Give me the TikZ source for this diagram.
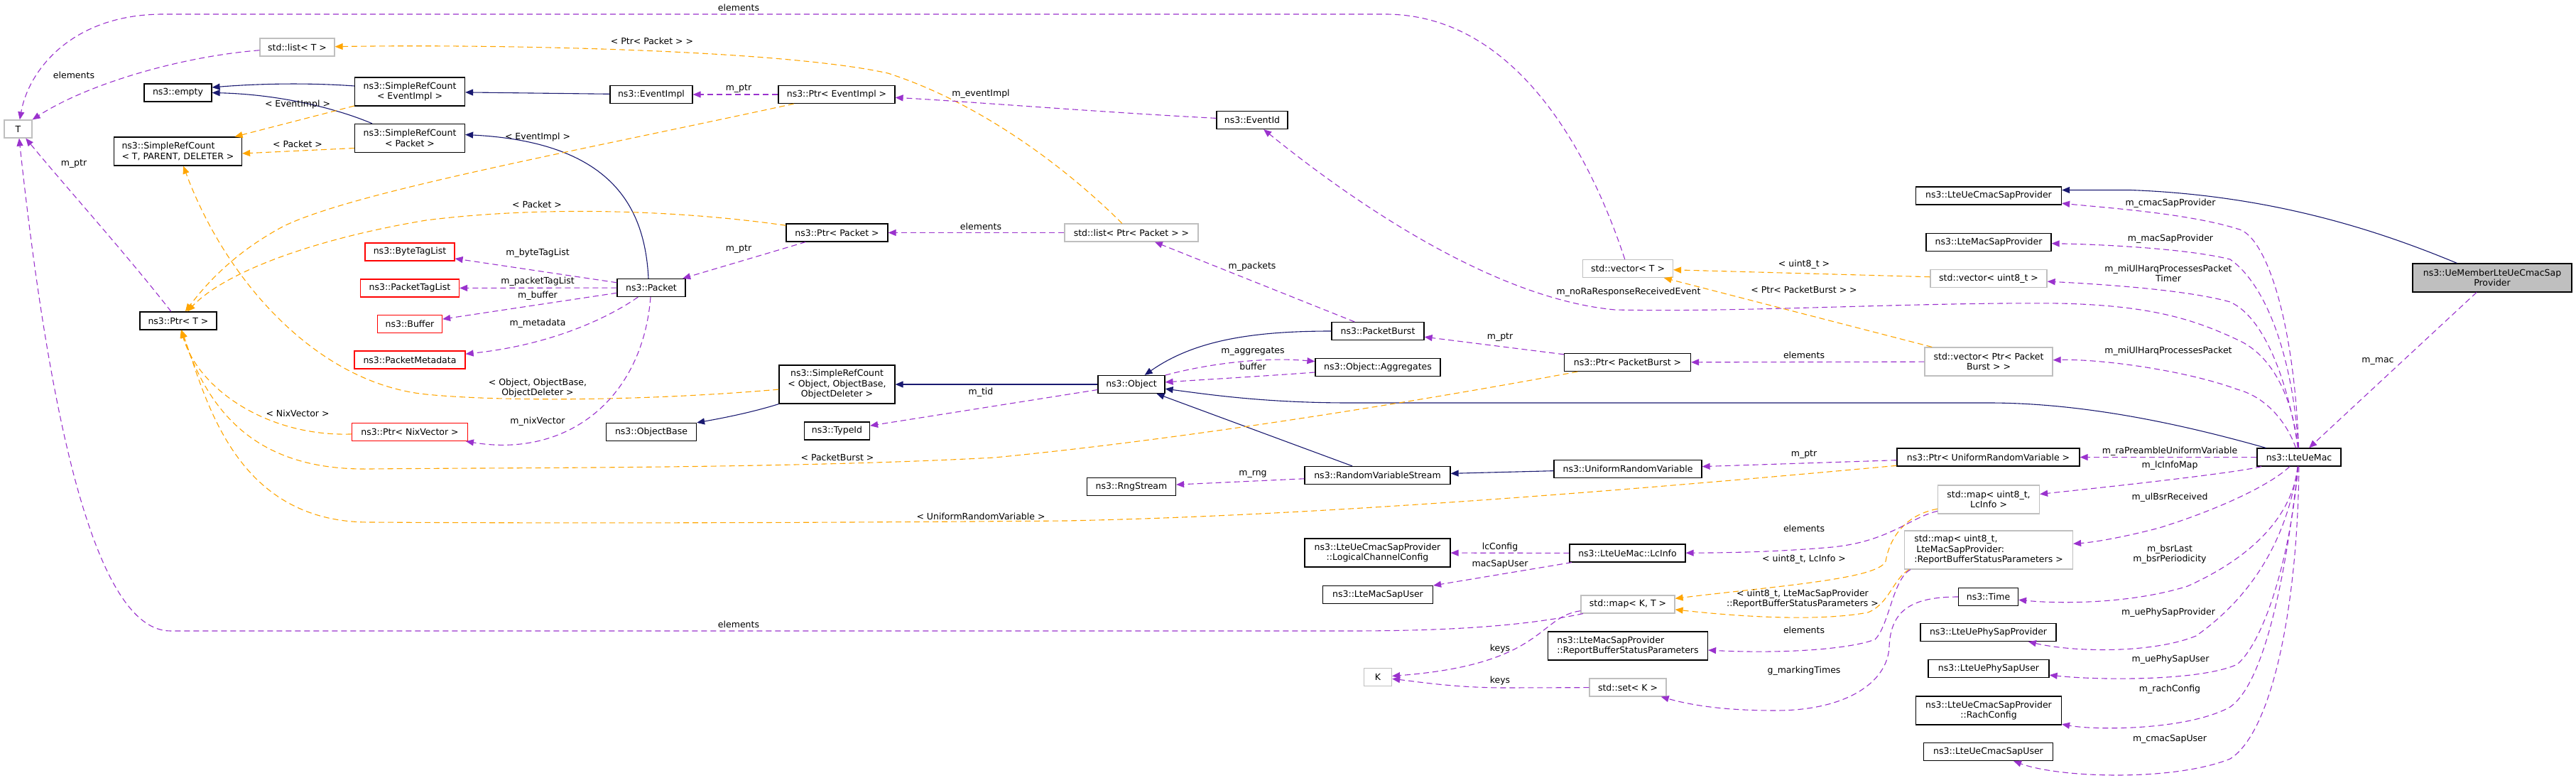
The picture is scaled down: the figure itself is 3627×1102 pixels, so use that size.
\documentclass[tikz,border=0pt]{standalone}
\usepackage{fontspec}
\setmainfont{DejaVu Sans}
\usetikzlibrary{arrows.meta}
\definecolor{mpurple}{HTML}{9A32CD}
\definecolor{morange}{HTML}{FFA500}
\definecolor{mnavy}{HTML}{191970}
\definecolor{mgray}{HTML}{BFBFBF}
\definecolor{mred}{HTML}{FF0000}
\tikzset{
 fnt/.style={font=\fontsize{12.5}{14.5}\selectfont},
 box/.style={fnt, draw=black, line width=1.2pt, fill=white, inner sep=0pt, minimum height=25pt, align=center},
 rbox/.style={box, draw=mred},
 gbox/.style={box, draw=mgray},
 lbl/.style={fnt, inner sep=0pt, align=center},
 mem/.style={draw=mpurple, line width=1.1pt, dash pattern=on 8pt off 5pt, -{Triangle[length=11pt,width=9pt]}},
 tmpl/.style={draw=morange, line width=1.1pt, dash pattern=on 8pt off 5pt, -{Triangle[length=11pt,width=9pt]}},
 inh/.style={draw=mnavy, line width=1.1pt, -{Triangle[length=11pt,width=9pt]}}
}
\begin{document}
\begin{tikzpicture}[x=1pt,y=-1pt]
\useasboundingbox (0,0) rectangle (3627,1102);
% ---------- nodes ----------
\node[gbox, minimum width=39pt] (T) at (25.5,181.5) {T};
\node[gbox, minimum width=105pt] (listT) at (418.5,66.5) {std::list< T >};
\node[box, minimum width=95pt] (empty) at (250.5,130.5) {ns3::empty};
\node[box, minimum width=180pt, minimum height=40pt, align=left] (srcT) at (250.5,213) {ns3::SimpleRefCount\\< T, PARENT, DELETER >};
\node[box, minimum width=155pt, minimum height=40pt] (srcEv) at (577,129) {ns3::SimpleRefCount\\< EventImpl >};
\node[box, minimum width=155pt, minimum height=40pt] (srcPk) at (577,194.5) {ns3::SimpleRefCount\\< Packet >};
\node[rbox, minimum width=126pt] (byteTag) at (577,354.5) {ns3::ByteTagList};
\node[rbox, minimum width=139pt] (pktTag) at (577,405.5) {ns3::PacketTagList};
\node[rbox, minimum width=91pt] (buffer) at (577,456) {ns3::Buffer};
\node[rbox, minimum width=156pt] (meta) at (577,506.5) {ns3::PacketMetadata};
\node[box, minimum width=108pt] (ptrT) at (251,451.5) {ns3::Ptr< T >};
\node[rbox, minimum width=163pt] (ptrNix) at (577,608) {ns3::Ptr< NixVector >};
\node[box, minimum width=116pt] (eventImpl) at (917,133) {ns3::EventImpl};
\node[box, minimum width=164pt] (ptrEv) at (1178,133) {ns3::Ptr< EventImpl >};
\node[box, minimum width=143pt] (ptrPk) at (1178.5,327.5) {ns3::Ptr< Packet >};
\node[box, minimum width=96pt] (packet) at (917,405) {ns3::Packet};
\node[box, minimum width=163pt, minimum height=54pt] (srcObj) at (1178.5,541) {ns3::SimpleRefCount\\< Object, ObjectBase,\\ ObjectDeleter >};
\node[box, minimum width=127pt] (objBase) at (917,608) {ns3::ObjectBase};
\node[box, minimum width=92pt] (typeId) at (1178.5,606.5) {ns3::TypeId};
\node[box, minimum width=100pt] (eventId) at (1763,169) {ns3::EventId};
\node[gbox, minimum width=188pt] (listPP) at (1593,327.5) {std::list< Ptr< Packet > >};
\node[box, minimum width=94pt] (object) at (1593,541) {ns3::Object};
\node[box, minimum width=125pt] (rng) at (1593,685) {ns3::RngStream};
\node[gbox, minimum width=127pt] (vecT) at (2292,378) {std::vector< T >};
\node[box, minimum width=130pt] (pburst) at (1940,466) {ns3::PacketBurst};
\node[box, minimum width=176pt] (aggr) at (1940,517) {ns3::Object::Aggregates};
\node[box, minimum width=178pt] (ptrPB) at (2291.5,510) {ns3::Ptr< PacketBurst >};
\node[box, minimum width=205pt] (rvs) at (1939.5,669) {ns3::RandomVariableStream};
\node[box, minimum width=208pt] (urv) at (2292,660) {ns3::UniformRandomVariable};
\node[box, minimum width=205pt, minimum height=40pt] (lcc) at (1939.5,778) {ns3::LteUeCmacSapProvider\\::LogicalChannelConfig};
\node[box, minimum width=163pt] (lcinfo) at (2291.5,778.5) {ns3::LteUeMac::LcInfo};
\node[box, minimum width=155pt] (macSapUser) at (1940,837) {ns3::LteMacSapUser};
\node[gbox, minimum width=132pt] (mapKT) at (2292,850.5) {std::map< K, T >};
\node[box, minimum width=225pt, minimum height=40pt, align=left] (rbsp) at (2292,909) {ns3::LteMacSapProvider\\::ReportBufferStatusParameters};
\node[gbox, minimum width=39pt] (K) at (1940,953) {K};
\node[gbox, minimum width=108pt] (setK) at (2292,967.5) {std::set< K >};
\node[box, minimum width=205pt] (cmacProv) at (2800,275.5) {ns3::LteUeCmacSapProvider};
\node[box, minimum width=176pt] (macProv) at (2800,341) {ns3::LteMacSapProvider};
\node[gbox, minimum width=164pt] (vecU8) at (2800,392) {std::vector< uint8\_t >};
\node[gbox, minimum width=180pt, minimum height=40pt] (vecPPB) at (2800,509) {std::vector< Ptr< Packet\\Burst > >};
\node[box, minimum width=257pt] (ptrURV) at (2799.5,643.5) {ns3::Ptr< UniformRandomVariable >};
\node[gbox, minimum width=143pt, minimum height=40pt] (mapLc) at (2800,703) {std::map< uint8\_t,\\LcInfo >};
\node[gbox, minimum width=237pt, minimum height=54pt, align=left] (mapRB) at (2800,774) {std::map< uint8\_t,\\\hspace*{3pt}LteMacSapProvider:\\:ReportBufferStatusParameters >};
\node[box, minimum width=84pt] (time) at (2799.5,840) {ns3::Time};
\node[box, minimum width=191pt] (phyProv) at (2799.5,890) {ns3::LteUePhySapProvider};
\node[box, minimum width=170pt] (phyUser) at (2800,941) {ns3::LteUePhySapUser};
\node[box, minimum width=205pt, minimum height=40pt] (rach) at (2800,1000) {ns3::LteUeCmacSapProvider\\::RachConfig};
\node[box, minimum width=182pt] (cmacUser) at (2799.5,1058) {ns3::LteUeCmacSapUser};
\node[box, minimum width=118pt] (mac) at (3237,643.5) {ns3::LteUeMac};
\node[box, fill=mgray, minimum width=224pt, minimum height=40pt] (ueMember) at (3509,391) {ns3::UeMemberLteUeCmacSap\\Provider};
% ---------- inheritance ----------
\draw[inh] ([yshift=8pt]srcEv.west) .. controls (430,116) and (360,118) .. ([yshift=7.5pt]empty.east);
\draw[inh] ([xshift=-53pt]srcPk.north) .. controls (480,155) and (400,133) .. (empty.east);
\draw[inh] (eventImpl) -- (srcEv);
\draw[inh] ([xshift=-4pt]packet.north) .. controls (908,290) and (860,200) .. ([yshift=5pt]srcPk.east);
\draw[inh] (srcObj.south west) .. controls (1060,580) and (1020,588) .. (objBase.north east);
\draw[inh] (object) -- (srcObj);
\draw[inh] (pburst) .. controls (1760,466) and (1680,480) .. (object);
\draw[inh] (rvs) -- (object);
\draw[inh] (urv) -- (rvs);
\draw[inh] (mac) .. controls (3100,605) and (2950,567) .. (2800,567) -- (1900,567) .. controls (1780,567) and (1700,555) .. (object);
\draw[inh] (ueMember) .. controls (3350,325) and (3200,275) .. (3000,267.5) -- ([yshift=8pt]cmacProv.east);
% ---------- template instances ----------
\draw[tmpl] (listPP) .. controls (1500,235) and (1380,145) .. (1250,103) .. controls (1100,70) and (700,62) .. (listT);
\draw[tmpl] (vecU8) -- (vecT);
\draw[tmpl] (vecPPB) -- (vecT);
\draw[tmpl] (srcEv) -- (srcT);
\draw[tmpl] ([yshift=-14pt]srcPk.west) -- ([yshift=-3pt]srcT.east);
\draw[tmpl] (srcObj) .. controls (900,565) and (700,565) .. (600,555) .. controls (450,540) and (320,400) .. (srcT);
\draw[tmpl] (ptrEv) .. controls (800,215) and (500,270) .. (400,318) .. controls (330,355) and (290,400) .. (ptrT);
\draw[tmpl] (ptrPk) .. controls (950,295) and (760,290) .. (600,310) .. controls (450,335) and (320,380) .. (ptrT);
\draw[tmpl] (ptrNix) .. controls (380,615) and (280,550) .. (ptrT);
\draw[tmpl] (ptrPB) .. controls (2050,555) and (1700,615) .. (1400,644) .. controls (1100,660) and (700,658) .. (520,660) .. controls (380,662) and (300,600) .. (ptrT);
\draw[tmpl] (ptrURV) .. controls (2400,680) and (1900,725) .. (1500,733) .. controls (1000,737) and (700,736) .. (520,735) .. controls (330,735) and (290,560) .. (ptrT);
\draw[tmpl] (mapLc) .. controls (2680,725) and (2660,760) .. (2655,790) .. controls (2645,815) and (2500,825) .. (mapKT);
\draw[tmpl] ([xshift=7pt]mapRB.south west) .. controls (2665,815) and (2660,850) .. (2630,862) .. controls (2560,875) and (2450,868) .. (mapKT);
% ---------- members ----------
\draw[mem] (vecT) .. controls (2250,250) and (2150,20) .. (1950,20) -- (230,20) .. controls (100,20) and (40,100) .. (T);
\draw[mem] (listT) .. controls (250,80) and (120,120) .. (T);
\draw[mem] (ptrT) .. controls (180,360) and (90,260) .. (T);
\draw[mem] (mapKT) .. controls (2150,880) and (2050,888) .. (1900,888) -- (240,888) .. controls (120,888) and (60,500) .. (T);
\draw[mem] (mapKT) .. controls (2165,868) and (2175,935) .. (K);
\draw[mem] (setK) -- (2120,968) .. controls (2050,968) and (2000,960) .. (K);
\draw[mem] (ptrEv) -- (eventImpl);
\draw[mem] (eventId) .. controls (1550,158) and (1350,142) .. (ptrEv);
\draw[mem] (ptrPk) -- (packet);
\draw[mem] (listPP) -- (ptrPk);
\draw[mem] (packet) -- (byteTag);
\draw[mem] (packet) -- (pktTag);
\draw[mem] (packet) -- (buffer);
\draw[mem] (packet) .. controls (860,445) and (780,485) .. (meta);
\draw[mem] (packet) .. controls (905,560) and (800,645) .. (ptrNix);
\draw[mem] (pburst) -- (listPP);
\draw[mem] (ptrPB) -- (pburst);
\draw[mem] (vecPPB) -- (ptrPB);
\draw[mem] (object) .. controls (1700,512) and (1780,502) .. (aggr);
\draw[mem] (aggr) .. controls (1800,528) and (1700,534) .. (object);
\draw[mem] (object) -- (typeId);
\draw[mem] (rvs) -- (rng);
\draw[mem] (ptrURV) -- (urv);
\draw[mem] (lcinfo) -- (lcc);
\draw[mem] (lcinfo) -- (macSapUser);
\draw[mem] (mapLc) .. controls (2690,728) and (2660,762) .. (2580,770) .. controls (2500,777) and (2430,778) .. (lcinfo);
\draw[mem] ([xshift=9pt]mapRB.south west) .. controls (2665,815) and (2660,880) .. (2640,900) .. controls (2600,915) and (2500,920) .. (rbsp);
\draw[mem] (time) .. controls (2690,840) and (2662,860) .. (2660,910) .. controls (2658,960) and (2600,1000) .. (2500,1000) .. controls (2440,1000) and (2390,995) .. (setK);
\draw[mem] (mac) .. controls (3230,450) and (3190,330) .. (3150,322) .. controls (3080,300) and (2960,292) .. (cmacProv);
\draw[mem] (mac) .. controls (3228,500) and (3190,400) .. (3140,365) .. controls (3080,350) and (2960,344) .. (macProv);
\draw[mem] (mac) .. controls (3226,560) and (3195,450) .. (3140,425) .. controls (3080,408) and (2960,400) .. (vecU8);
\draw[mem] (mac) .. controls (3222,600) and (3195,560) .. (3150,548) .. controls (3080,522) and (2960,505) .. (vecPPB);
\draw[mem] (mac) .. controls (3228,560) and (3200,500) .. (3150,478) .. controls (3090,450) and (3030,430) .. (2900,427) .. controls (2700,425) and (2450,440) .. (2274,436) .. controls (2100,420) and (1900,280) .. (eventId);
\draw[mem] (mac) -- (ptrURV);
\draw[mem] (mac) .. controls (3150,665) and (3000,682) .. (mapLc);
\draw[mem] (mac) .. controls (3200,680) and (3130,715) .. (3040,743) .. controls (2990,756) and (2950,763) .. (mapRB);
\draw[mem] (mac) .. controls (3228,720) and (3180,780) .. (3080,825) .. controls (3000,850) and (2900,850) .. (time);
\draw[mem] (mac) .. controls (3220,760) and (3170,840) .. (3092,895) .. controls (3030,920) and (2920,918) .. (phyProv);
\draw[mem] (mac) .. controls (3225,780) and (3190,900) .. (3150,935) .. controls (3100,958) and (2960,958) .. (phyUser);
\draw[mem] (mac) .. controls (3220,800) and (3190,960) .. (3140,995) .. controls (3080,1028) and (2950,1028) .. (rach);
\draw[mem] (mac) .. controls (3235,850) and (3200,1030) .. (3140,1068) .. controls (3060,1100) and (2900,1095) .. (cmacUser);
\draw[mem] (ueMember) -- (mac);
% ---------- labels ----------
\node[lbl] (l1) at (1040,11) {elements};
\node[lbl] (l2) at (104,106) {elements};
\node[lbl] (l3) at (104,231) {m\_ptr};
\node[lbl] (l4) at (1040,879) {elements};
\node[lbl] (l5) at (2112,913) {keys};
\node[lbl] (l6) at (2112,958) {keys};
\node[lbl] (l7) at (1040,125) {m\_ptr};
\node[lbl] (l8) at (1381,132) {m\_eventImpl};
\node[lbl] (l9) at (1040,351) {m\_ptr};
\node[lbl] (l10) at (1381,319) {elements};
\node[lbl] (l11) at (757,356) {m\_byteTagList};
\node[lbl] (l12) at (757,396) {m\_packetTagList};
\node[lbl] (l13) at (757,416) {m\_buffer};
\node[lbl] (l14) at (757,455) {m\_metadata};
\node[lbl] (l15) at (757,593) {m\_nixVector};
\node[lbl] (l16) at (1763,375) {m\_packets};
\node[lbl] (l17) at (2112,475) {m\_ptr};
\node[lbl] (l18) at (2540,500) {elements};
\node[lbl] (l19) at (1764,495) {m\_aggregates};
\node[lbl] (l20) at (1764,516) {buffer};
\node[lbl] (l21) at (1381,552) {m\_tid};
\node[lbl] (l22) at (1764,667) {m\_rng};
\node[lbl] (l23) at (2540,640) {m\_ptr};
\node[lbl] (l24) at (2112,770) {lcConfig};
\node[lbl] (l25) at (2112,794) {macSapUser};
\node[lbl] (l26) at (2540,744) {elements};
\node[lbl] (l27) at (2540,887) {elements};
\node[lbl] (l28) at (2540,944) {g\_markingTimes};
\node[lbl] (l29) at (3056,286) {m\_cmacSapProvider};
\node[lbl] (l30) at (3056,336) {m\_macSapProvider};
\node[lbl] (l31) at (3053,385) {m\_miUlHarqProcessesPacket\\Timer};
\node[lbl] (l32) at (3053,494) {m\_miUlHarqProcessesPacket};
\node[lbl] (l33) at (2293,411) {m\_noRaResponseReceivedEvent};
\node[lbl] (l34) at (3055,635) {m\_raPreambleUniformVariable};
\node[lbl] (l35) at (3055,655) {m\_lcInfoMap};
\node[lbl] (l36) at (3055,700) {m\_ulBsrReceived};
\node[lbl] (l37) at (3055,780) {m\_bsrLast\\m\_bsrPeriodicity};
\node[lbl] (l38) at (3053,862.5) {m\_uePhySapProvider};
\node[lbl] (l39) at (3056,928.5) {m\_uePhySapUser};
\node[lbl] (l40) at (3055,970.6) {m\_rachConfig};
\node[lbl] (l41) at (3055,1040.5) {m\_cmacSapUser};
\node[lbl] (l42) at (3348,508.6) {m\_mac};
\node[lbl] (l43) at (918,58) {< Ptr< Packet > >};
\node[lbl] (l44) at (419,147) {< EventImpl >};
\node[lbl] (l45) at (419,203) {< Packet >};
\node[lbl] (l46) at (757,193) {< EventImpl >};
\node[lbl] (l47) at (756,288) {< Packet >};
\node[lbl] (l48) at (419,582) {< NixVector >};
\node[lbl] (l49) at (757,546) {< Object, ObjectBase,\\ObjectDeleter >};
\node[lbl] (l50) at (1179,644) {< PacketBurst >};
\node[lbl] (l51) at (1381,727) {< UniformRandomVariable >};
\node[lbl] (l52) at (2540,372.5) {< uint8\_t >};
\node[lbl] (l53) at (2540,407.5) {< Ptr< PacketBurst > >};
\node[lbl] (l54) at (2540,787) {< uint8\_t, LcInfo >};
\node[lbl] (l55) at (2538,843) {< uint8\_t, LteMacSapProvider\\::ReportBufferStatusParameters >};
\end{tikzpicture}
\end{document}
